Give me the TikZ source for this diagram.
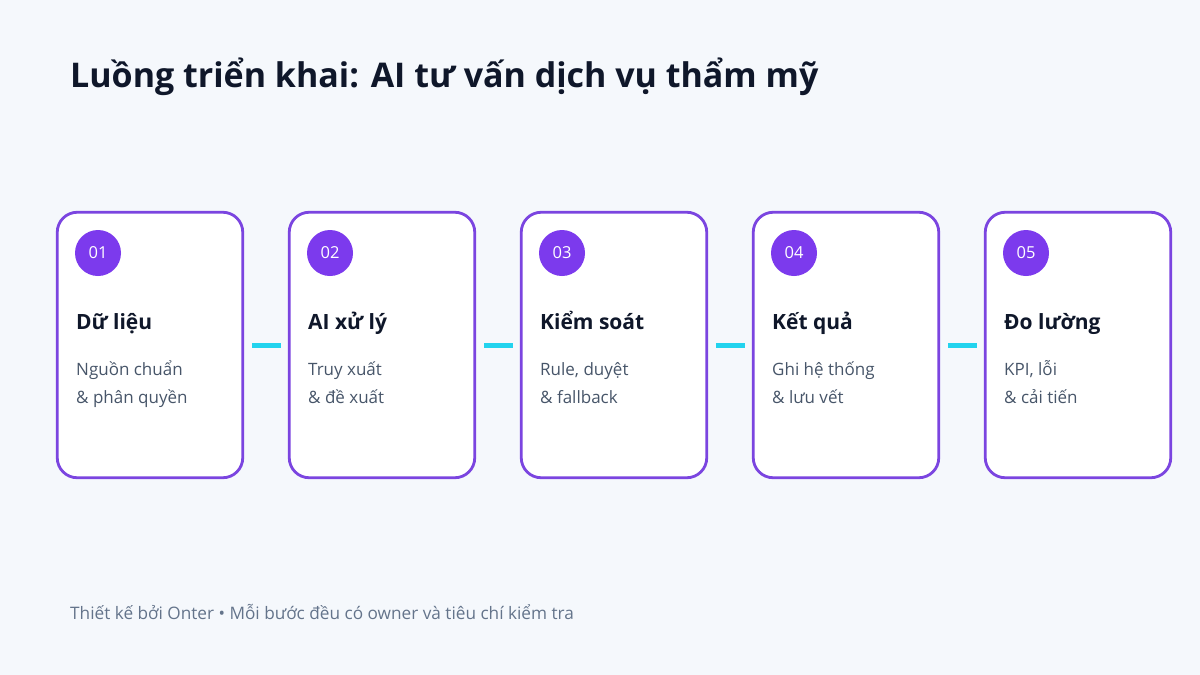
\documentclass[tikz,border=0pt]{standalone}
\usepackage{fontspec}
\setmainfont{Open Sans}
\usetikzlibrary{positioning}

\definecolor{pagebg}{HTML}{F5F8FC}
\definecolor{violet}{HTML}{7C3AED}
\definecolor{cardedge}{HTML}{7B45E0}
\definecolor{linkcyan}{HTML}{22D3EE}
\definecolor{inkdark}{HTML}{0F172A}
\definecolor{inksub}{HTML}{475569}
\definecolor{inkfoot}{HTML}{64748B}

\begin{document}
\begin{tikzpicture}[
	x=1pt, y=-1pt,
	step card/.style={draw=cardedge, line width=2.8pt, fill=white, rounded corners=20pt, minimum width=185.5pt, minimum height=265.5pt},
	step badge/.style={circle, fill=violet, text=white, minimum size=46pt, inner sep=0pt, font=\fontsize{16.5}{18}\selectfont},
	step title/.style={anchor=base west, inner sep=0pt, text=inkdark, font=\fontsize{21}{24}\selectfont\bfseries},
	step text/.style={anchor=base west, inner sep=0pt, text=inksub, font=\fontsize{17}{20}\selectfont},
	link/.style={draw=linkcyan, line width=5pt, shorten <=8pt, shorten >=7pt},
]
	\fill[pagebg] (0,0) rectangle (1200,675);

	\node[anchor=base west, inner sep=0pt, text=inkdark, font=\fontsize{34}{40}\selectfont\bfseries] (title) at (70,87) {Luồng triển khai: AI tư vấn dịch vụ thẩm mỹ};

	% cards
	\node[step card] (data) at (150,345) {};
	\node[step card] (ai) at (382,345) {};
	\node[step card] (ctrl) at (614,345) {};
	\node[step card] (result) at (846,345) {};
	\node[step card] (measure) at (1078,345) {};

	% step 1
	\node[step badge] (b1) at (98,253) {01};
	\node[step title] (t1) at (76,329) {Dữ liệu};
	\node[step text] (s1) at (76,375) {Nguồn chuẩn};
	\node[step text] (r1) at (76,403) {\& phân quyền};

	% step 2
	\node[step badge] (b2) at (330,253) {02};
	\node[step title] (t2) at (308,329) {AI xử lý};
	\node[step text] (s2) at (308,375) {Truy xuất};
	\node[step text] (r2) at (308,403) {\& đề xuất};

	% step 3
	\node[step badge] (b3) at (562,253) {03};
	\node[step title] (t3) at (540,329) {Kiểm soát};
	\node[step text] (s3) at (540,375) {Rule, duyệt};
	\node[step text] (r3) at (540,403) {\& fallback};

	% step 4
	\node[step badge] (b4) at (794,253) {04};
	\node[step title] (t4) at (772,329) {Kết quả};
	\node[step text] (s4) at (772,375) {Ghi hệ thống};
	\node[step text] (r4) at (772,403) {\& lưu vết};

	% step 5
	\node[step badge] (b5) at (1026,253) {05};
	\node[step title] (t5) at (1004,329) {Đo lường};
	\node[step text] (s5) at (1004,375) {KPI, lỗi};
	\node[step text] (r5) at (1004,403) {\& cải tiến};

	% links
	\draw[link] (data.east) -- (ai.west);
	\draw[link] (ai.east) -- (ctrl.west);
	\draw[link] (ctrl.east) -- (result.west);
	\draw[link] (result.east) -- (measure.west);

	\node[anchor=base west, inner sep=0pt, text=inkfoot, font=\fontsize{17.2}{20}\selectfont] (footer) at (70,619) {Thiết kế bởi Onter • Mỗi bước đều có owner và tiêu chí kiểm tra};
\end{tikzpicture}
\end{document}
